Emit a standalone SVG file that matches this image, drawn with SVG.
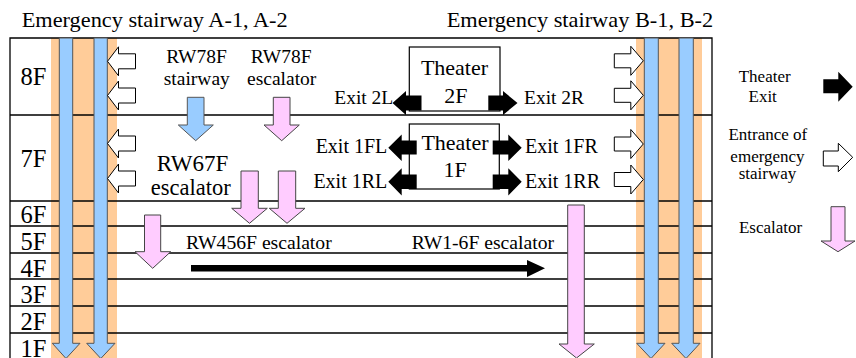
<svg xmlns="http://www.w3.org/2000/svg" width="856" height="358" viewBox="0 0 856 358">
<style>
text{font-family:"Liberation Serif","Times New Roman",serif;fill:#000}
.t{font-size:21px}
.fl{font-size:24.5px}
.lb{font-size:19.5px}
.ex{font-size:20px}
.th{font-size:22px}
.lg{font-size:17px}
.ln{stroke:#000;stroke-width:1.3;fill:none}
.org{fill:#FFCC99}
.blu{fill:#99CCFF;stroke:#555;stroke-width:1}
.pnk{fill:#FFCCFF;stroke:#444;stroke-width:1}
.wh{fill:#fff;stroke:#000;stroke-width:1}
.bk{fill:#000}
.box{fill:#fff;stroke:#000;stroke-width:1.2}
</style>
<defs>
<path id="wl" d="M0,0 L11,-14.5 L11,-7.5 L28,-7.5 L28,7.5 L11,7.5 L11,14.5 Z"/>
<path id="wr" d="M0,0 L-12.5,-14.5 L-12.5,-7 L-29,-7 L-29,7 L-12.5,7 L-12.5,14.5 Z"/>
</defs>
<rect width="856" height="358" fill="#fff"/>
<g id="stair-bands">
<rect class="org" x="51" y="38" width="66" height="320"/>
<rect class="org" x="636" y="38" width="66" height="320"/>
</g>
<g id="frame">
<path class="ln" d="M10,358 V38 H712 V358"/>
<path class="ln" d="M10,115 H712 M10,201 H712 M10,226 H712 M10,253 H712 M10,279 H712 M10,306 H712 M10,333 H712"/>
</g>
<g id="stairway-A">
<path class="blu" d="M59.3,38 H72.7 V343.3 H80 L66,358.5 L52.3,343.3 H59.3 Z"/>
<path class="blu" d="M94,38 H107.3 V343.3 H115 L100.8,358.5 L86.7,343.3 H94 Z"/>
<text class="t" x="21.7" y="27" textLength="266" lengthAdjust="spacingAndGlyphs">Emergency stairway A-1, A-2</text>
</g>
<g id="stairway-B">
<path class="blu" d="M644.3,38 H658.3 V343.3 H665 L651,358.5 L636.7,343.3 H644.3 Z"/>
<path class="blu" d="M679,38 H693.3 V343.3 H700 L686,358.5 L671.7,343.3 H679 Z"/>
<text class="t" x="446.7" y="27" textLength="266.5" lengthAdjust="spacingAndGlyphs">Emergency stairway B-1, B-2</text>
</g>
<g id="floor-labels">
<text class="fl" x="20.5" y="85">8F</text>
<text class="fl" x="20.5" y="167.3">7F</text>
<text class="fl" x="20.5" y="223.3">6F</text>
<text class="fl" x="20.5" y="250">5F</text>
<text class="fl" x="20.5" y="276.7">4F</text>
<text class="fl" x="20.5" y="303.3">3F</text>
<text class="fl" x="20.5" y="330">2F</text>
<text class="fl" x="20.5" y="356.5">1F</text>
</g>
<g id="entrances-A">
<use href="#wl" class="wh" x="107.5" y="61.3"/>
<use href="#wl" class="wh" x="107.5" y="95.5"/>
<use href="#wl" class="wh" x="107.5" y="143.5"/>
<use href="#wl" class="wh" x="107.5" y="178.5"/>
</g>
<g id="entrances-B">
<use href="#wr" class="wh" x="643.3" y="60.8"/>
<use href="#wr" class="wh" x="643.3" y="95.3"/>
<use href="#wr" class="wh" x="643.3" y="144"/>
<use href="#wr" class="wh" x="643.3" y="179.5"/>
</g>
<g id="rw78f-stairway">
<text class="lb" x="196.5" y="63" text-anchor="middle">RW78F</text>
<text class="lb" x="196.8" y="85" text-anchor="middle">stairway</text>
<path class="blu" d="M187.3,97.3 H204 V125 H213.3 L195.7,140.7 L178.3,125 H187.3 Z"/>
</g>
<g id="rw78f-escalator">
<text class="lb" x="281.2" y="63" text-anchor="middle">RW78F</text>
<text class="lb" x="281.7" y="85" text-anchor="middle">escalator</text>
<path class="pnk" d="M273.3,97.3 H290 V125 H299.3 L281.7,140.7 L264,125 H273.3 Z"/>
</g>
<g id="rw67f-escalator">
<text x="192.5" y="171" text-anchor="middle" font-size="23">RW67F</text>
<text x="190.8" y="195" text-anchor="middle" font-size="22.5">escalator</text>
<path class="pnk" d="M241,171 H258.3 V208.3 H267.3 L249.5,223.3 L231.7,208.3 H241 Z"/>
<path class="pnk" d="M278.3,171 H295.7 V208.3 H305 L287,223.3 L269.3,208.3 H278.3 Z"/>
</g>
<g id="theater-2f">
<rect class="box" x="409.3" y="47" width="90.7" height="64"/>
<text class="th" x="454.5" y="74.7" text-anchor="middle">Theater</text>
<text class="th" x="455.8" y="103" text-anchor="middle">2F</text>
<path class="bk" d="M392.5,103 L406,91 V95.5 H421.5 V110.5 H406 V115 Z"/>
<path class="bk" d="M517.5,103 L503,91 V95.5 H488.3 V110.5 H503 V115 Z"/>
<text class="lb" x="393.3" y="103.7" text-anchor="end">Exit 2L</text>
<text class="lb" x="524" y="103.7">Exit 2R</text>
</g>
<g id="theater-1f">
<rect class="box" x="409.3" y="124" width="90" height="65"/>
<text class="th" x="455" y="150" text-anchor="middle">Theater</text>
<text class="th" x="455" y="176.7" text-anchor="middle">1F</text>
<path class="bk" d="M388.3,147.7 L401.7,134.5 V140.5 H416.7 V154.5 H401.7 V161 Z"/>
<path class="bk" d="M388.3,181.7 L401.7,168.3 V174.5 H416.7 V189 H401.7 V195.5 Z"/>
<path class="bk" d="M521.7,147.7 L508.3,134.5 V140.5 H492.7 V154.5 H508.3 V161 Z"/>
<path class="bk" d="M521.7,181.7 L508.3,168.3 V174.5 H492.7 V189 H508.3 V195.5 Z"/>
<text class="ex" x="387.3" y="153.3" text-anchor="end">Exit 1FL</text>
<text class="ex" x="387.3" y="188.3" text-anchor="end">Exit 1RL</text>
<text class="ex" x="525" y="153.3">Exit 1FR</text>
<text class="ex" x="525" y="188.3">Exit 1RR</text>
</g>
<g id="rw456f-escalator">
<path class="pnk" d="M144.5,215 H160.7 V251.7 H170.7 L152.7,268.3 L135,251.7 H144.5 Z"/>
<text x="186" y="249.3" font-size="18.5" textLength="145.7" lengthAdjust="spacingAndGlyphs">RW456F escalator</text>
</g>
<g id="rw1-6f-escalator">
<text x="411.7" y="249.3" font-size="19" textLength="142.3" lengthAdjust="spacingAndGlyphs">RW1-6F escalator</text>
<path class="pnk" d="M567.7,205 H584.3 V344 H594.3 L576.5,358 L559,344 H567.7 Z"/>
</g>
<g id="connectors">
<path class="bk" d="M191,265 H527 V260 L545,268.3 L527,277 V271.5 H191 Z"/>
</g>
<g id="legend-exit">
<text class="lg" x="764.7" y="81.7" text-anchor="middle">Theater</text>
<text class="lg" x="762.7" y="101.7" text-anchor="middle">Exit</text>
<path class="bk" d="M823.3,79.3 H838.3 V71.7 L852.7,86.7 L838.3,101.7 V93.3 H823.3 Z"/>
</g>
<g id="legend-entrance">
<text class="lg" x="767.8" y="140" text-anchor="middle">Entrance of</text>
<text class="lg" x="767.5" y="161.7" text-anchor="middle">emergency</text>
<text class="lg" x="767.5" y="179.3" text-anchor="middle">stairway</text>
<path class="wh" d="M823.3,151 H838.3 V143.3 L852.7,157.3 L838.3,171.7 V166 H823.3 Z"/>
</g>
<g id="legend-escalator">
<text class="lg" x="770.5" y="233.3" text-anchor="middle">Escalator</text>
<path class="pnk" d="M831,206.7 H845 V241 H855 L838,251.7 L821,241 H831 Z"/>
</g>
</svg>
